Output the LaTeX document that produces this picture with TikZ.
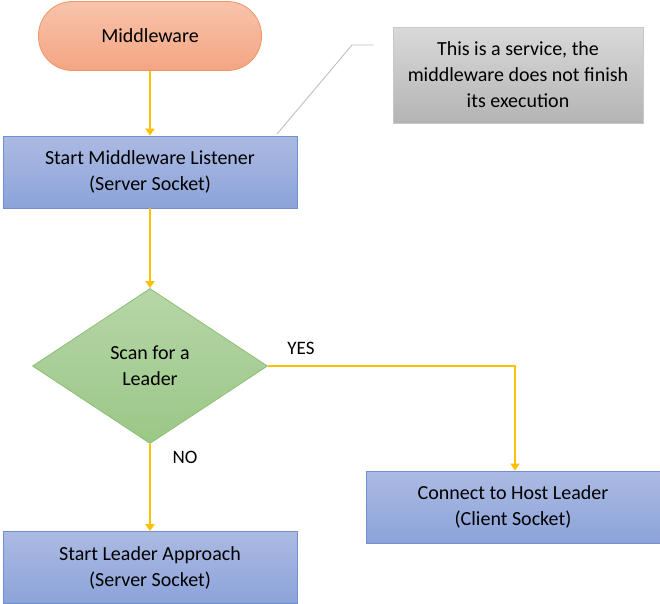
\documentclass[tikz,border=0pt]{standalone}
\usepackage{fontspec}
\setmainfont{Carlito}
\usetikzlibrary{shapes.geometric,arrows.meta}

\definecolor{flowgold}{HTML}{FFC000}
\definecolor{termtop}{HTML}{F8C3AB}
\definecolor{termbot}{HTML}{F4A583}
\definecolor{termline}{HTML}{EF9563}
\definecolor{proctop}{HTML}{ABBAE2}
\definecolor{procbot}{HTML}{8CA3DA}
\definecolor{procline}{HTML}{7090D2}
\definecolor{dectop}{HTML}{B6D6A7}
\definecolor{decbot}{HTML}{9BC787}
\definecolor{decline}{HTML}{8DBF72}
\definecolor{notetop}{HTML}{D9D9D9}
\definecolor{notebot}{HTML}{B4B4B4}
\definecolor{noteline}{HTML}{C8C8C8}
\definecolor{leader}{HTML}{BFBFBF}

\tikzset{
  every node/.style={font=\fontsize{20}{26}\selectfont, text=black, align=center, inner sep=0pt},
  terminal/.style={rectangle, rounded corners=34pt, draw=termline, line width=0.8pt,
    top color=termtop, bottom color=termbot, minimum width=223pt, minimum height=69pt},
  procbox/.style={rectangle, draw=procline, line width=0.8pt,
    top color=proctop, bottom color=procbot, minimum width=294pt, minimum height=72pt},
  decision/.style={diamond, draw=decline, line width=0.8pt,
    top color=dectop, bottom color=decbot, minimum width=235pt, minimum height=155pt},
  notebox/.style={rectangle, draw=noteline, line width=0.8pt,
    top color=notetop, bottom color=notebot, minimum width=250pt, minimum height=96pt},
  flow/.style={draw=flowgold, line width=2pt, -{Triangle[width=9pt,length=7pt]}},
  callout/.style={draw=leader, line width=0.9pt},
  branch/.style={font=\fontsize{19}{23}\selectfont}
}

\begin{document}
\begin{tikzpicture}[x=1pt,y=-1pt]
  \useasboundingbox (0,0) rectangle (660,603);

  % flowchart steps
  \node[terminal] (mw) at (150,36) {Middleware};
  \node[procbox] (listen) at (150,172) {Start Middleware Listener\\(Server Socket)};
  \node[decision] (scan) at (150,366) {Scan for a\\Leader};
  \node[procbox] (connect) at (513,507) {Connect to Host Leader\\(Client Socket)};
  \node[procbox] (approach) at (150,567.5) {Start Leader Approach\\(Server Socket)};

  % side note with its leader line
  \node[notebox] (note) at (518,75) {This is a service, the\\middleware does not finish\\its execution};
  \coordinate (noteend) at (373,45);
  \coordinate (notebend) at (352,45);
  \coordinate (notetip) at (277,134);
  \draw[callout] (noteend) -- (notebend) -- (notetip);

  % connectors
  \draw[flow] (mw.south) -- (listen.north);
  \draw[flow] (listen.south) -- (scan.north);
  \draw[flow] (scan.east) -| ([xshift=2pt]connect.north);
  \draw[flow] (scan.south) -- (approach.north);

  % branch labels
  \node[branch] (yes) at (301,348) {YES};
  \node[branch] (no) at (185,457) {NO};
\end{tikzpicture}
\end{document}
